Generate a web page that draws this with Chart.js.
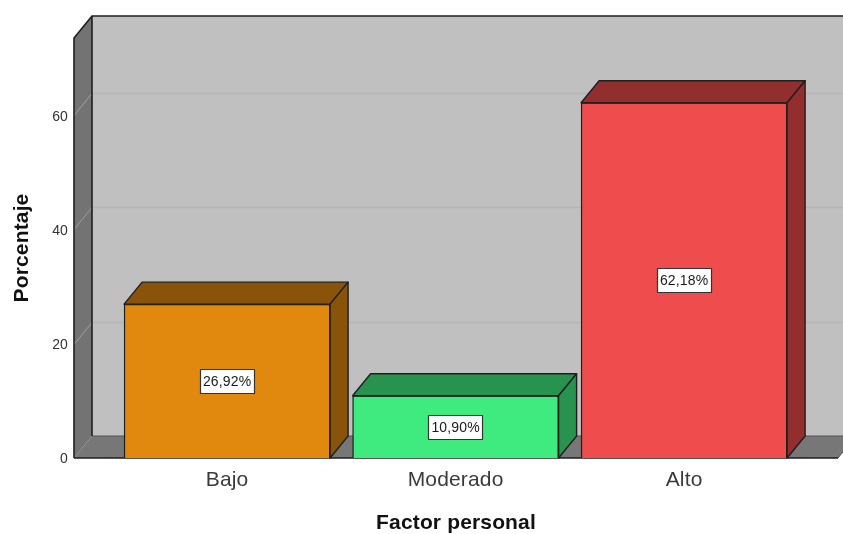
<!DOCTYPE html>
<html>
<head>
<meta charset="utf-8">
<title>Factor personal</title>
<script src="https://cdn.jsdelivr.net/npm/chart.js@4"></script>
<style>
  html, body { margin: 0; padding: 0; background: #fff; }
  canvas { display: block; }
</style>
</head>
<body>
<canvas id="factorChart" width="843" height="534"></canvas>
<script>
const categories = ['Bajo', 'Moderado', 'Alto'];
const porcentajes = [26.92, 10.90, 62.18];
const yTicks = [0, 20, 40, 60];
const barColors = ['#e1890f', '#3fea7e', '#ef4c4e'];
const barShades = ['#89540a', '#27934f', '#922e2e'];

// how far the back wall is pushed from the front plane
const depthX = 18;
const depthY = 22;
const edge = '#1f1f1f';
const fontFamily = '"Liberation Sans", Arial, sans-serif';

function poly(ctx, pts, fill, stroke) {
    ctx.beginPath();
    ctx.moveTo(pts[0][0], pts[0][1]);
    for (let i = 1; i < pts.length; i++) ctx.lineTo(pts[i][0], pts[i][1]);
    ctx.closePath();
    ctx.fillStyle = fill;
    ctx.fill();
    if (stroke) {
        ctx.strokeStyle = stroke;
        ctx.lineWidth = 1.4;
        ctx.lineJoin = 'round';
        ctx.stroke();
    }
}

// walls, floor and grid behind the bars
const walls = {
    id: 'walls',
    beforeDraw(chart) {
        chart.ctx.letterSpacing = '0.15px';
        // y labels sit slightly under their grid line
        chart.scales.y.getLabelItems().forEach(function(item) {
            if (!item.moved) {
                item.options.translation[1] += 1.5;
                item.moved = true;
            }
        });
    },
    beforeDatasetsDraw(chart) {
        const ctx = chart.ctx;
        const a = chart.chartArea;
        const y = chart.scales.y;
        ctx.save();
        poly(ctx, [[a.left + depthX, a.top - depthY], [a.right + depthX, a.top - depthY],
                   [a.right + depthX, a.bottom - depthY], [a.left + depthX, a.bottom - depthY]], '#c0c0c0');
        poly(ctx, [[a.left, a.bottom], [a.left + depthX, a.bottom - depthY],
                   [a.right + depthX, a.bottom - depthY], [a.right, a.bottom]], '#777777');
        poly(ctx, [[a.left, a.top], [a.left + depthX, a.top - depthY],
                   [a.left + depthX, a.bottom - depthY], [a.left, a.bottom]], '#737373');

        yTicks.slice(1).forEach(function(t) {
            const py = Math.round(y.getPixelForValue(t)) + 0.5;
            ctx.lineWidth = 1;
            ctx.strokeStyle = '#a0a0a0';
            ctx.beginPath();
            ctx.moveTo(a.left, py);
            ctx.lineTo(a.left + depthX, py - depthY);
            ctx.stroke();
            ctx.lineWidth = 1.5;
            ctx.strokeStyle = '#b4b4b4';
            ctx.beginPath();
            ctx.moveTo(a.left + depthX, py - depthY);
            ctx.lineTo(a.right + depthX, py - depthY);
            ctx.stroke();
        });

        ctx.lineWidth = 1;
        ctx.strokeStyle = '#555555';
        ctx.beginPath();
        ctx.moveTo(a.left + depthX, a.bottom - depthY);
        ctx.lineTo(a.right + depthX, a.bottom - depthY);
        ctx.moveTo(a.right, a.bottom);
        ctx.lineTo(a.right + depthX, a.bottom - depthY);
        ctx.stroke();

        ctx.strokeStyle = edge;
        ctx.lineWidth = 1.6;
        ctx.beginPath();
        ctx.moveTo(a.left, a.bottom);
        ctx.lineTo(a.left, a.top);
        ctx.lineTo(a.left + depthX, a.top - depthY);
        ctx.lineTo(a.right + depthX, a.top - depthY);
        ctx.moveTo(a.left + depthX, a.top - depthY);
        ctx.lineTo(a.left + depthX, a.bottom - depthY);
        ctx.moveTo(a.left, a.bottom);
        ctx.lineTo(a.right, a.bottom);
        ctx.stroke();
        ctx.restore();
    }
};

// top and side faces of each bar, then the value boxes
const barFaces = {
    id: 'barFaces',
    afterDatasetsDraw(chart) {
        const ctx = chart.ctx;
        const bars = chart.getDatasetMeta(0).data;
        ctx.save();
        bars.forEach(function(bar, i) {
            const l = bar.x - bar.width / 2;
            const r = bar.x + bar.width / 2;
            poly(ctx, [[l, bar.y], [l + depthX, bar.y - depthY], [r + depthX, bar.y - depthY], [r, bar.y]], barShades[i], edge);
            poly(ctx, [[r, bar.y], [r + depthX, bar.y - depthY], [r + depthX, bar.base - depthY], [r, bar.base]], barShades[i], edge);
        });
        ctx.font = '14px ' + fontFamily;
        ctx.textAlign = 'center';
        ctx.textBaseline = 'middle';
        bars.forEach(function(bar, i) {
            const label = porcentajes[i].toFixed(2).replace('.', ',') + '%';
            const midY = (bar.y + bar.base) / 2;
            const bx = Math.round(bar.x - 27.5) + 0.5;
            const by = Math.round(midY - 12) + 0.5;
            ctx.fillStyle = '#ffffff';
            ctx.fillRect(bx, by, 54, 24);
            ctx.strokeStyle = '#333333';
            ctx.lineWidth = 1.2;
            ctx.strokeRect(bx, by, 54, 24);
            ctx.fillStyle = '#1a1a1a';
            ctx.fillText(label, bar.x, midY + 1);
        });
        ctx.restore();
    }
};

const ctx1 = document.getElementById('factorChart').getContext('2d');

new Chart(ctx1, {
    type: 'bar',
    data: {
        datasets: [{
            data: categories.map(function(c, i) { return { x: i + 1, y: porcentajes[i] }; }),
            backgroundColor: barColors,
            borderColor: edge,
            borderWidth: 1.4,
            barThickness: 206
        }]
    },
    plugins: [walls, barFaces],
    options: {
        responsive: false,
        animation: false,
        layout: { padding: { top: 38, right: 5, left: 0, bottom: 0 } },
        plugins: { legend: { display: false }, tooltip: { enabled: false } },
        scales: {
            x: {
                type: 'linear',
                offset: false,
                min: 0.33,
                max: 3.6735,
                grid: { display: false },
                border: { display: false },
                afterBuildTicks(scale) {
                    scale.ticks = categories.map(function(c, i) { return { value: i + 1 }; });
                },
                afterFit(scale) { scale.height = 76; },
                ticks: {
                    autoSkip: false,
                    maxRotation: 0,
                    padding: 2,
                    color: '#3a3a3a',
                    font: { family: fontFamily, size: 21 },
                    callback(value) { return categories[value - 1]; }
                },
                title: {
                    display: true,
                    text: 'Factor personal',
                    color: '#111111',
                    font: { family: fontFamily, size: 21, weight: 'bold' },
                    padding: { top: 16, bottom: -1.5 }
                }
            },
            y: {
                min: 0,
                max: 73.5,
                grid: { display: false, drawTicks: false },
                border: { display: false },
                afterBuildTicks(scale) {
                    scale.ticks = yTicks.map(function(v) { return { value: v }; });
                },
                afterFit(scale) { scale.width = 74; },
                ticks: {
                    padding: 6,
                    color: '#333333',
                    font: { family: fontFamily, size: 14 }
                },
                title: {
                    display: true,
                    text: 'Porcentaje',
                    color: '#111111',
                    font: { family: fontFamily, size: 21, weight: 'bold' },
                    padding: { top: 10, bottom: 0 }
                }
            }
        }
    }
});
</script>
</body>
</html>
